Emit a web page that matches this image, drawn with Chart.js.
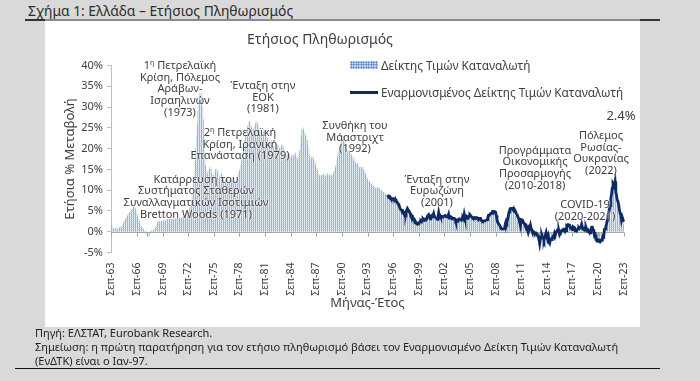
<!DOCTYPE html>
<html><head><meta charset="utf-8">
<script src="https://cdn.jsdelivr.net/npm/chart.js@4.4.0/dist/chart.umd.min.js"></script>
<style>
html,body{margin:0;padding:0;}
body{width:700px;height:381px;background:#d9d9d9;position:relative;overflow:hidden;font-family:'Noto Sans',sans-serif;color:#333;}
#fig{position:absolute;left:28px;top:1px;font-size:13.8px;color:#2b2b2b;white-space:nowrap;}
#topline{position:absolute;left:25px;top:19px;width:635px;height:2px;background:linear-gradient(to right,#333 0 20px,#8c8c8c 20px 615px,#333 615px);}
#panel{position:absolute;left:45px;top:21px;width:595px;height:306px;background:#fff;}
#cv{position:absolute;left:45px;top:20px;}
.ann{position:absolute;transform:translateX(-50%);text-align:center;font-size:11px;line-height:11.7px;color:#404040;white-space:nowrap;text-shadow:0 0 2px #fff,0 0 2px #fff;}
.ann sup{font-size:7px;line-height:0;vertical-align:4px;}
#ctitle{position:absolute;left:320px;top:29px;transform:translateX(-50%);font-size:14px;color:#404040;white-space:nowrap;}
.lg{position:absolute;font-size:11.8px;color:#404040;white-space:nowrap;}
#lgbox{position:absolute;left:350px;top:61px;width:28px;height:8px;background-color:#dfe7f5;background-image:radial-gradient(#5f84c8 0.9px,transparent 1.1px);background-size:2.5px 2.5px;}
#lgline{position:absolute;left:350px;top:90.5px;width:28px;height:3px;background:#0d2a63;}
#caption{position:absolute;left:35px;top:326px;font-size:11px;line-height:14px;color:#222;white-space:nowrap;}
#botline{position:absolute;left:15px;top:368px;width:645px;height:1px;background:#111;}
</style></head>
<body>
<div id="fig">Σχήμα 1: Ελλάδα – Ετήσιος Πληθωρισμός</div>
<div id="topline"></div>
<div id="panel"></div>
<canvas id="cv" width="595" height="307"></canvas>
<div id="ctitle">Ετήσιος Πληθωρισμός</div>
<div id="lgbox"></div><div class="lg" style="left:381px;top:57px;">Δείκτης Τιμών Καταναλωτή</div>
<div id="lgline"></div><div class="lg" style="left:381px;top:84px;">Εναρμονισμένος Δείκτης Τιμών Καταναλωτή</div>

<div class="ann" style="left:180px;top:59px;">1<sup>η</sup> Πετρελαϊκή<br>Κρίση, Πόλεμος<br>Αράβων-<br>Ισραηλινών<br>(1973)</div>
<div class="ann" style="left:263px;top:79px;">Ένταξη στην<br>ΕΟΚ<br>(1981)</div>
<div class="ann" style="left:240px;top:126px;">2<sup>η</sup> Πετρελαϊκή<br>Κρίση, Ιρανική<br>Επανάσταση (1979)</div>
<div class="ann" style="left:196px;top:172.5px;">Κατάρρευση του<br>Συστήματος Σταθερών<br>Συναλλαγματικών Ισοτιμιών<br>Bretton Woods (1971)</div>
<div class="ann" style="left:355px;top:119px;">Συνθήκη του<br>Μάαστριχτ<br>(1992)</div>
<div class="ann" style="left:437px;top:172.5px;">Ένταξη στην<br>Ευρωζώνη<br>(2001)</div>
<div class="ann" style="left:535px;top:143.5px;">Προγράμματα<br>Οικονομικής<br>Προσαρμογής<br>(2010-2018)</div>
<div class="ann" style="left:585px;top:198px;">COVID-19<br>(2020-2021)</div>
<div class="ann" style="left:601px;top:129px;">Πόλεμος<br>Ρωσίας-<br>Ουκρανίας<br>(2022)</div>
<div class="ann" style="left:621px;top:110px;font-size:13px;">2.4%</div>

<div id="caption">Πηγή: ΕΛΣΤΑΤ, Eurobank Research.<br>Σημείωση: η πρώτη παρατήρηση για τον ετήσιο πληθωρισμό βάσει τον Εναρμονισμένο Δείκτη Τιμών Καταναλωτή<br>(ΕνΔΤΚ) είναι ο Ιαν-97.</div>
<div id="botline"></div>

<script>
// ---- DATA ----
const monthNames = ['Ιαν','Φεβ','Μαρ','Απρ','Μαϊ','Ιουν','Ιουλ','Αυγ','Σεπ','Οκτ','Νοε','Δεκ'];
const startYear = 1963, startMonth = 8; // Sep-1963 (0-based month)
const tickLabels = ['Σεπ-63','Σεπ-66','Σεπ-69','Σεπ-72','Σεπ-75','Σεπ-78','Σεπ-81','Σεπ-84','Σεπ-87','Σεπ-90','Σεπ-93','Σεπ-96','Σεπ-99','Σεπ-02','Σεπ-05','Σεπ-08','Σεπ-11','Σεπ-14','Σεπ-17','Σεπ-20','Σεπ-23'];

// Δείκτης Τιμών Καταναλωτή, annual % change, monthly Sep-63 .. Sep-23
const cpiValues = [
 1.8,1.4,0.9,0.7,
 0.6,0.5,0.7,0.9,0.6,0.5,0.8,1.0,0.8,1.1,0.9,1.2,
 1.5,2.0,2.4,2.8,3.0,3.3,3.6,3.9,4.1,4.4,4.6,4.9,
 5.1,5.3,5.6,5.9,6.1,5.7,5.3,4.8,4.1,3.5,3.0,2.5,
 2.0,1.6,1.2,1.0,0.8,0.5,0.3,0.1,-0.1,-0.4,-0.8,-1.1,
 -1.2,-0.9,-0.5,-0.1,0.1,0.2,0.3,0.3,0.4,0.5,0.8,1.2,
 1.8,2.2,2.4,2.5,2.3,2.2,2.5,2.4,2.3,2.6,2.5,2.6,
 2.7,2.8,2.6,2.9,3.0,2.8,2.9,3.1,3.0,2.9,3.1,3.0,
 2.9,3.0,3.1,3.0,3.2,3.1,2.9,3.0,3.2,3.1,3.3,3.2,
 3.3,3.5,3.6,3.8,4.0,4.2,4.3,4.5,4.8,5.0,5.5,6.0,
 6.5,7.5,9.0,10.5,12.0,14.0,17.0,20.0,23.0,26.0,29.0,31.0,
 32.5,33.5,33.0,32.0,30.0,27.0,23.0,19.0,16.0,15.0,14.5,14.0,
 14.0,14.5,15.0,15.5,15.0,14.0,13.5,13.0,13.5,14.0,14.5,15.0,
 15.0,14.5,14.0,13.5,13.0,13.0,13.5,14.0,13.5,13.0,12.5,12.0,
 12.0,12.5,13.0,12.5,12.0,11.5,12.0,12.5,12.0,12.5,13.0,13.0,
 13.0,12.5,12.0,12.0,12.5,13.0,13.5,14.0,14.5,15.0,16.0,17.0,
 18.0,19.0,20.0,21.0,22.0,23.0,24.0,25.0,25.5,26.0,26.5,26.0,
 25.5,25.0,24.5,24.0,24.5,25.0,25.5,26.0,26.5,26.0,25.5,25.0,
 24.0,23.5,23.0,22.5,23.0,23.5,24.0,24.5,24.0,23.5,23.0,22.5,
 22.0,21.5,21.0,21.5,22.0,21.5,21.0,20.5,20.0,20.5,21.0,20.5,
 20.0,20.5,21.0,20.5,20.0,19.5,20.0,20.5,21.0,20.5,20.0,19.5,
 19.0,18.5,18.5,18.0,18.5,19.0,18.5,18.0,17.5,18.0,18.5,18.0,
 18.0,18.5,19.0,18.5,18.0,17.5,17.5,18.0,18.5,19.5,21.0,23.0,
 24.5,25.0,24.5,24.0,23.5,23.0,22.5,22.0,21.0,20.0,18.5,17.5,
 17.0,17.5,18.0,18.0,17.5,17.0,16.5,16.0,15.5,15.0,14.5,14.0,
 13.5,13.5,13.0,13.5,13.5,13.0,13.5,14.0,13.5,13.0,13.5,14.0,
 13.5,13.5,13.0,13.5,14.0,13.5,13.0,13.5,14.0,14.5,15.0,15.5,
 16.0,17.0,18.0,19.0,19.5,20.0,20.5,21.0,22.0,23.0,23.0,22.5,
 22.0,21.0,20.0,19.5,19.0,19.5,19.0,19.5,19.0,18.5,18.0,18.0,
 17.0,17.5,17.0,16.5,16.0,16.0,16.5,16.0,15.5,15.0,15.5,15.5,
 15.0,15.5,15.0,14.5,14.0,14.0,13.5,13.0,12.5,12.0,12.0,12.0,
 11.5,11.5,11.0,11.0,11.0,11.0,10.5,10.5,10.5,10.5,10.5,10.5,
 10.5,10.3,10.1,9.9,9.8,9.6,9.5,9.3,9.2,9.0,8.9,8.9,
 8.8,8.6,8.5,8.5,8.5,8.3,8.2,8.0,7.9,7.7,7.6,7.6,
 7.3,7.0,6.5,6.0,5.8,5.5,5.2,5.0,4.8,4.7,4.6,4.7,
 4.6,4.4,4.3,4.8,5.0,5.2,5.0,4.8,4.6,4.3,4.0,3.8,
 3.5,3.3,3.0,2.6,2.2,2.0,2.0,2.1,2.3,2.3,2.5,2.7,
 2.8,2.9,3.0,2.9,2.8,3.0,3.0,3.0,3.4,3.6,4.0,3.9,
 3.7,3.6,3.5,3.6,3.8,3.9,3.5,3.6,3.3,3.0,3.1,3.4,
 4.0,3.8,3.9,4.0,3.6,3.4,3.5,3.4,3.5,3.4,3.5,3.4,
 3.6,3.8,4.1,3.5,3.3,3.4,3.4,3.5,3.2,3.2,3.2,3.1,
 2.7,2.8,2.7,2.8,3.1,3.1,3.0,2.8,2.9,3.2,3.3,3.1,
 3.8,3.6,3.6,3.5,3.2,3.2,3.3,3.6,3.8,3.7,3.3,3.6,
 3.2,3.1,3.3,3.3,3.5,3.4,3.3,3.1,2.9,3.0,3.2,3.2,
 2.9,2.7,2.6,2.6,2.6,2.6,2.6,2.7,2.9,3.1,3.9,3.9,
 3.9,4.3,4.4,4.4,4.9,4.9,4.9,4.7,4.7,3.9,3.0,2.0,
 2.0,1.8,1.5,1.1,0.7,0.6,0.7,0.8,0.8,1.4,2.1,2.4,
 2.3,2.8,3.9,4.8,5.4,5.5,5.6,5.6,5.6,5.2,4.8,5.2,
 4.9,4.4,4.3,3.9,3.4,3.2,2.1,1.4,2.9,2.9,2.9,2.4,
 2.3,1.7,1.5,1.5,0.9,1.1,1.1,1.2,1.0,1.6,0.8,0.3,
 0.2,0.1,-0.2,-0.6,-0.3,-0.3,-0.5,-1.0,-1.0,-1.9,-2.9,-1.8,
 -1.4,-0.9,-1.5,-1.6,-2.1,-1.5,-0.8,-0.2,-1.1,-1.8,-1.2,-2.6,
 -2.8,-1.9,-2.1,-2.1,-2.1,-2.2,-2.2,-1.5,-1.7,-0.9,-0.1,0.4,
 0.0,-0.1,-1.5,-1.4,-0.9,-0.8,-0.4,0.0,-0.1,-0.4,-0.7,0.0,
 1.5,1.4,1.7,1.6,1.4,0.9,0.8,0.6,0.8,0.8,1.0,0.7,
 0.2,0.1,0.3,0.5,0.6,0.8,0.8,0.9,1.2,1.7,1.1,0.6,
 0.4,0.3,1.1,1.3,0.6,-0.1,0.1,0.1,-0.1,-0.3,0.2,0.6,
 0.8,0.7,0.1,-1.0,-1.2,-1.7,-1.5,-2.0,-2.0,-2.0,-2.1,-2.3,
 -2.2,-1.6,-0.8,0.2,-0.1,0.5,1.1,1.9,2.2,3.4,4.8,5.1,
 6.2,7.2,8.9,10.2,10.5,11.6,11.3,11.4,12.1,9.1,8.5,7.2,
 7.0,6.1,4.6,3.0,2.8,1.8,2.5,2.7,1.6
];

// Εναρμονισμένος ΔΤΚ, annual % change, monthly from Ιαν-96 .. Sep-23 (as placed in the chart)
const hicpStartLabel = 'Ιαν-96';
const hicpValues = [
 8.8,8.6,8.4,8.5,8.3,8.0,7.9,7.8,7.9,7.7,7.6,7.9,
 7.6,7.3,7.0,6.8,6.5,6.0,5.5,5.3,5.2,4.7,4.9,4.5,
 4.4,4.6,4.4,5.2,5.6,5.3,5.0,4.8,4.4,3.9,3.9,3.8,
 3.2,2.9,2.9,2.2,2.3,2.0,1.8,1.9,2.1,2.2,2.5,2.6,
 2.4,2.8,3.1,2.9,2.7,2.8,3.1,3.1,3.6,3.9,4.1,3.7,
 3.1,3.8,3.9,3.6,3.9,4.4,3.7,3.5,3.4,3.2,3.0,3.5,
 4.6,3.7,3.9,3.5,3.6,3.5,3.7,3.7,3.8,3.9,3.9,3.6,
 3.6,3.7,4.2,3.3,3.3,3.6,3.5,3.1,3.2,3.2,3.2,3.1,
 2.5,2.6,2.5,2.6,3.0,3.1,3.1,2.9,2.8,3.3,3.4,3.1,
 4.2,3.4,3.6,3.7,3.2,3.3,3.5,3.8,4.1,3.9,3.6,3.5,
 3.3,3.3,3.4,3.3,3.4,3.4,3.4,3.4,2.9,3.1,3.2,3.2,
 2.7,2.6,2.5,2.6,2.6,2.6,2.7,2.8,2.9,3.3,3.9,3.9,
 3.9,4.4,4.5,4.4,4.9,4.9,4.9,4.8,4.7,3.9,3.0,2.2,
 2.0,1.7,1.5,1.1,0.7,0.7,0.7,0.7,0.7,1.3,2.1,2.6,
 2.3,3.0,3.9,4.8,5.4,5.6,5.5,5.6,5.6,5.2,4.9,5.2,
 4.9,4.4,4.3,3.7,3.3,3.1,2.1,1.4,2.9,2.9,2.8,2.2,
 2.1,1.7,1.4,1.5,0.9,1.0,0.9,1.2,1.0,1.6,0.8,0.3,
 0.1,0.1,-0.2,-0.6,-0.3,-0.3,-0.5,-1.0,-1.0,-1.9,-2.9,-1.8,
 -1.4,-0.9,-1.5,-1.6,-2.1,-1.5,-0.8,-0.2,-1.1,-1.8,-1.2,-2.5,
 -2.8,-1.9,-1.9,-1.8,-1.4,-1.1,-1.3,-0.4,-0.8,-0.1,-0.1,0.4,
 0.0,0.1,-0.7,-0.4,0.2,0.2,0.4,0.2,0.6,0.6,0.1,0.3,
 1.5,1.4,1.7,1.6,1.6,0.9,0.9,0.6,1.0,0.5,1.1,1.0,
 0.2,0.4,0.2,0.5,0.8,1.0,0.8,1.0,1.1,1.8,1.1,0.6,
 0.5,0.4,1.0,1.1,0.6,0.2,0.4,0.1,-0.1,-0.3,0.5,1.1,
 1.1,0.6,0.2,-0.9,-0.7,-1.9,-2.1,-2.3,-2.3,-2.0,-2.1,-2.4,
 -2.4,-1.9,-2.0,-1.1,-1.2,0.6,0.7,1.2,1.9,2.8,4.0,4.4,
 5.5,6.3,8.0,9.1,10.5,11.6,11.3,11.2,12.1,9.5,8.8,7.6,
 7.3,6.5,5.4,4.5,4.1,2.8,3.5,3.5,2.4
];

// ---- build categories (months) ----
const months = cpiValues.map((_, i) => {
  const m = (startMonth + i) % 12;
  const y = startYear + Math.floor((startMonth + i) / 12);
  return monthNames[m] + '-' + String(y % 100).padStart(2, '0');
});
const hicpStart = months.indexOf(hicpStartLabel);
const hicpSeries = months.map((_, i) => (i >= hicpStart && i - hicpStart < hicpValues.length) ? hicpValues[i - hicpStart] : null);
if (cpiValues.length !== 721 || hicpStart + hicpValues.length !== 721) throw new Error('len ' + cpiValues.length + ' ' + (hicpStart + hicpValues.length));

// dotted fill like the reference's patterned bars
function barPattern() {
  const c = document.createElement('canvas'); c.width = 2; c.height = 2;
  const g = c.getContext('2d');
  g.fillStyle = '#8ea8d8'; g.fillRect(0, 0, 1, 1);
  g.fillStyle = '#e9eff9'; g.fillRect(1, 0, 1, 1);
  g.fillStyle = '#a9bde3'; g.fillRect(0, 1, 1, 1);
  g.fillStyle = '#d3def2'; g.fillRect(1, 1, 1, 1);
  return g.createPattern(c, 'repeat');
}

const zeroAxis = {
  id: 'zeroAxis',
  afterDatasetDraw(chart, args) {
    if (args.meta.type !== 'bar') return;
    const {ctx, chartArea, scales: {x, y}} = chart;
    const y0 = Math.round(y.getPixelForValue(0)) + 0.5;
    ctx.save();
    ctx.strokeStyle = '#a6a6a6'; ctx.lineWidth = 1;
    ctx.beginPath();
    ctx.moveTo(chartArea.left, y0); ctx.lineTo(chartArea.right, y0);
    x.ticks.forEach((t, i) => {
      if (t.label) { const px = Math.round(x.getPixelForTick(i)) + 0.5; ctx.moveTo(px, y0); ctx.lineTo(px, y0 + 4); }
    });
    ctx.stroke();
    ctx.restore();
  }
};

Chart.defaults.font.family = "'Noto Sans', sans-serif";
new Chart(document.getElementById('cv'), {
  type: 'bar',
  data: {
    labels: months,
    datasets: [
      {type: 'line', label: 'Εναρμονισμένος Δείκτης Τιμών Καταναλωτή', data: hicpSeries, borderColor: '#0d2a63', borderWidth: 2.8, pointRadius: 0, tension: 0, order: 0},
      {type: 'bar', label: 'Δείκτης Τιμών Καταναλωτή', data: cpiValues, backgroundColor: barPattern(), barPercentage: 1, categoryPercentage: 1, order: 1}
    ]
  },
  options: {
    responsive: false, animation: false, devicePixelRatio: 1,
    layout: {padding: {left: 0, right: 16, top: 45.5, bottom: 0}},
    plugins: {legend: {display: false}, tooltip: {enabled: false}},
    scales: {
      x: {
        grid: {display: false}, border: {display: false},
        ticks: {autoSkip: false, maxRotation: 90, minRotation: 90, padding: 2, font: {size: 10.5}, color: '#404040',
          callback(v) { const l = this.getLabelForValue(v); return tickLabels.includes(l) ? l : null; }},
        title: {display: true, text: 'Μήνας-Έτος', font: {size: 13}, color: '#404040', padding: {top: 0, bottom: 16}},
        afterFit(s) { s.height = 74.5; }
      },
      y: {
        min: -5, max: 40,
        ticks: {stepSize: 5, callback: v => v + '%', padding: 4, font: {size: 11}, color: '#404040'},
        grid: {drawOnChartArea: false, drawTicks: true, tickLength: 4, color: '#bfbfbf'},
        border: {display: true, color: '#bfbfbf'},
        title: {display: true, text: 'Ετήσια % Μεταβολή', font: {size: 13}, color: '#404040', padding: {top: 17, bottom: 0}},
        afterFit(s) { s.width = 66; }
      }
    }
  },
  plugins: [zeroAxis]
});
</script>
</body></html>
